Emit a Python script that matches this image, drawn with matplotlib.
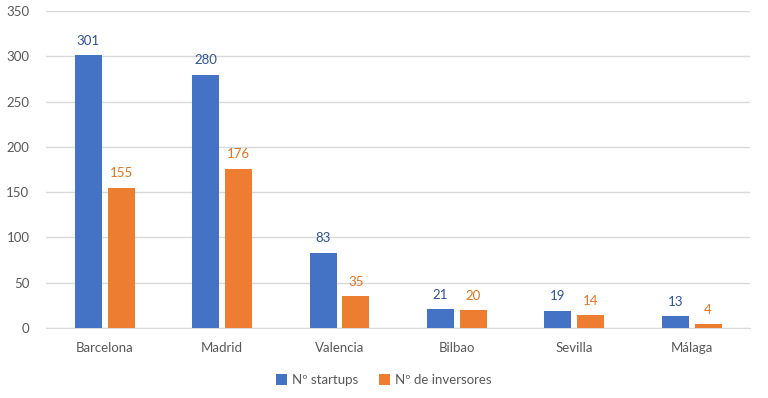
import matplotlib.pyplot as plt
import numpy as np

cities = ["Barcelona", "Madrid", "Valencia", "Bilbao", "Sevilla", "Málaga"]
startups = [301, 280, 83, 21, 19, 13]
inversores = [155, 176, 35, 20, 14, 4]

blue = "#4472C4"
orange = "#ED7D31"
grey = "#595959"

plt.rcParams['font.family'] = ['Lato', 'DejaVu Sans']

fig = plt.figure(figsize=(7.68, 3.98), dpi=100)
ax = fig.add_axes([0.06, 0.176, 0.917, 0.796])

x = np.arange(len(cities))
width = 0.23
gap = 0.05

b1 = ax.bar(x - (width + gap) / 2, startups, width, color=blue, label="Nº startups", zorder=3)
b2 = ax.bar(x + (width + gap) / 2, inversores, width, color=orange, label="Nº de inversores", zorder=3)

# value labels above the bars
ax.bar_label(b1, padding=6, color="#2F5597", fontsize=9.5)
ax.bar_label(b2, padding=6, color="#E2741F", fontsize=9.5)

ax.set_xlim(-0.5, len(cities) - 0.5)
ax.set_ylim(0, 350)
ax.set_yticks(range(0, 351, 50))
ax.set_xticks(x)
ax.set_xticklabels(cities)
ax.tick_params(axis="both", length=0, colors=grey, labelsize=9.5)
ax.tick_params(axis="x", pad=10)
ax.tick_params(axis="y", pad=12)

ax.grid(axis="y", color="#D9D9D9", linewidth=1, zorder=0)
for s in ["top", "right", "left"]:
    ax.spines[s].set_visible(False)
ax.spines["bottom"].set_color("#D9D9D9")

fig.legend(loc="lower center", ncol=2, frameon=False, bbox_to_anchor=(0.5, 0.0),
           fontsize=9.5, handlelength=0.8, handleheight=0.8, columnspacing=1.6,
           handletextpad=0.4, labelcolor=grey)

plt.savefig("out.png", dpi=100)
